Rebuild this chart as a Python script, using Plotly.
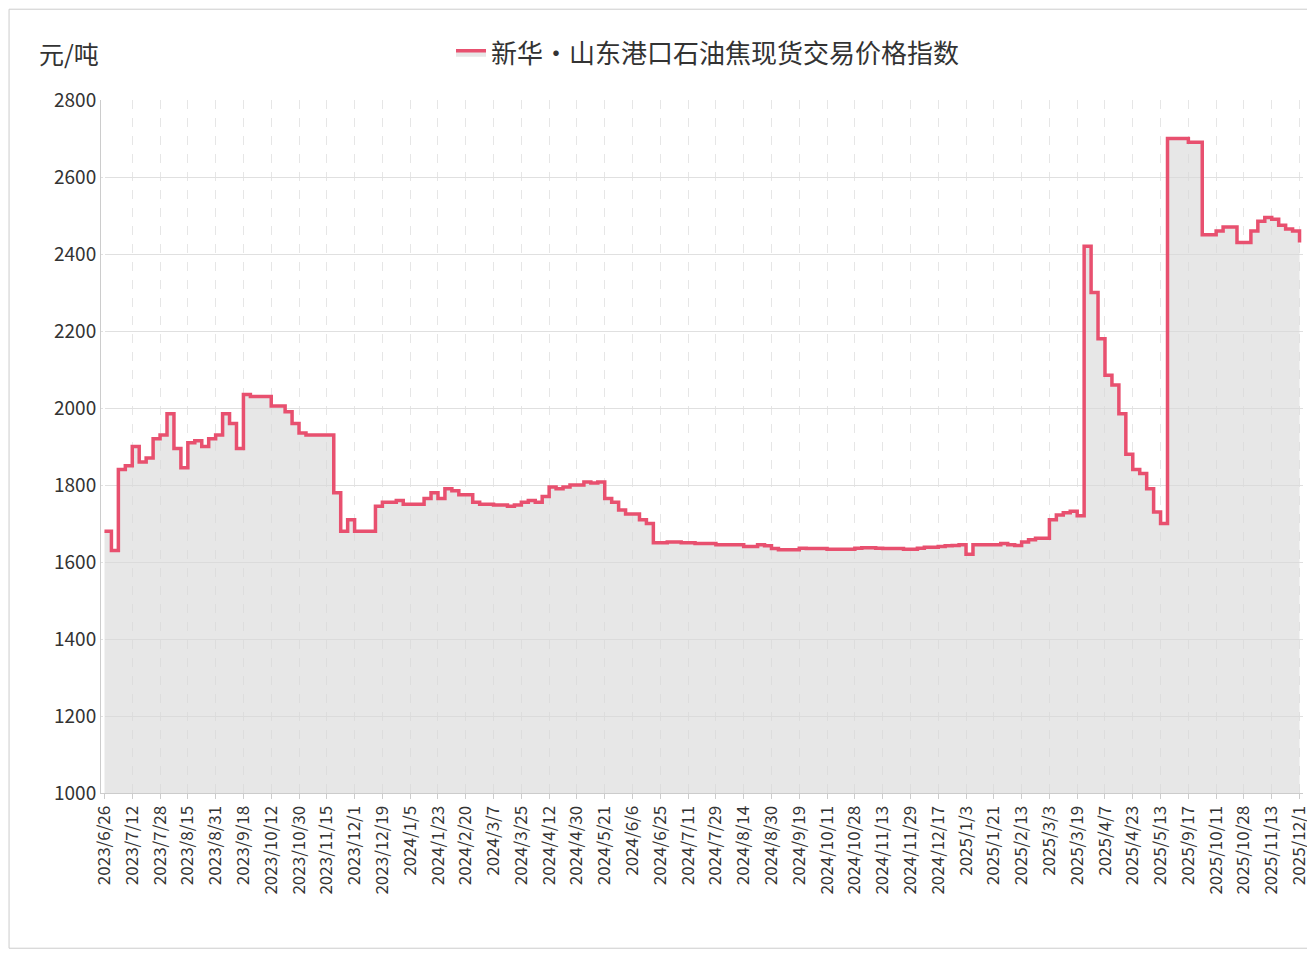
import plotly.graph_objects as go

# tick labels on the category axis (one every 4 points)
tick_labels = [
    "2023/6/26", "2023/7/12", "2023/7/28", "2023/8/15", "2023/8/31", "2023/9/18",
    "2023/10/12", "2023/10/30", "2023/11/15", "2023/12/1", "2023/12/19", "2024/1/5",
    "2024/1/23", "2024/2/20", "2024/3/7", "2024/3/25", "2024/4/12", "2024/4/30",
    "2024/5/21", "2024/6/6", "2024/6/25", "2024/7/11", "2024/7/29", "2024/8/14",
    "2024/8/30", "2024/9/19", "2024/10/11", "2024/10/28", "2024/11/13", "2024/11/29",
    "2024/12/17", "2025/1/3", "2025/1/21", "2025/2/13", "2025/3/3", "2025/3/19",
    "2025/4/7", "2025/4/23", "2025/5/13", "2025/9/17", "2025/10/11", "2025/10/28",
    "2025/11/13", "2025/12/1",
]

# index values (yuan/tonne)
prices = [
    1680, 1630, 1840, 1850,
    1900, 1860, 1870, 1920,
    1930, 1985, 1895, 1845,
    1910, 1915, 1900, 1920,
    1930, 1985, 1960, 1895,
    2035, 2030, 2030, 2030,
    2005, 2005, 1990, 1960,
    1935, 1930, 1930, 1930,
    1930, 1780, 1680, 1710,
    1680, 1680, 1680, 1745,
    1755, 1755, 1760, 1750,
    1750, 1750, 1765, 1780,
    1765, 1790, 1785, 1775,
    1775, 1755, 1750, 1750,
    1748, 1748, 1745, 1748,
    1755, 1760, 1755, 1770,
    1795, 1790, 1795, 1800,
    1800, 1808, 1805, 1808,
    1765, 1755, 1735, 1725,
    1725, 1710, 1700, 1650,
    1650, 1652, 1652, 1650,
    1650, 1648, 1648, 1648,
    1645, 1645, 1645, 1645,
    1640, 1640, 1645, 1642,
    1635, 1632, 1632, 1632,
    1636, 1635, 1635, 1635,
    1633, 1633, 1633, 1633,
    1636, 1637, 1637, 1636,
    1635, 1635, 1635, 1633,
    1633, 1636, 1638, 1638,
    1640, 1642, 1643, 1645,
    1620, 1645, 1645, 1645,
    1645, 1648, 1645, 1643,
    1652, 1658, 1662, 1662,
    1710, 1722, 1728, 1732,
    1720, 2420, 2300, 2180,
    2085, 2060, 1985, 1880,
    1840, 1830, 1790, 1730,
    1700, 2700, 2700, 2700,
    2690, 2690, 2450, 2450,
    2460, 2470, 2470, 2430,
    2430, 2460, 2485, 2495,
    2490, 2475, 2465, 2460,
    2430,
]

x = list(range(len(prices)))
tick_pos = list(range(0, len(prices), 4))

font = "Noto Sans CJK SC, Noto Sans, sans-serif"

fig = go.Figure()
fig.add_trace(go.Scatter(
    x=x, y=prices, mode="lines",
    name="新华·山东港口石油焦现货交易价格指数",
    line=dict(color="#e8506f", width=3.5, shape="hv"),
    fill="tozeroy", fillcolor="rgba(215,215,215,0.6)",
))

fig.update_layout(
    width=1315, height=953,
    paper_bgcolor="white", plot_bgcolor="white",
    margin=dict(l=93, r=20, t=92, b=168, autoexpand=False),
    font=dict(family=font, color="#333", size=17),
    showlegend=True,
    legend=dict(orientation="h", x=0.505, xanchor="center", y=1.068, yanchor="middle",
                font=dict(size=26, color="#333"), bgcolor="rgba(0,0,0,0)"),
    annotations=[dict(text="元/吨", xref="paper", yref="paper", x=-0.053, y=1.068,
                      xanchor="left", yanchor="middle", showarrow=False,
                      font=dict(size=25, color="#333"))],
    shapes=[dict(type="rect", xref="paper", yref="paper", x0=-0.0765, x1=1.015,
                 y0=-0.224, y1=1.131, line=dict(color="#ccc", width=1))],
)
fig.update_xaxes(
    range=[-0.5, len(prices) - 0.5],
    tickmode="array", tickvals=tick_pos, ticktext=tick_labels, tickangle=-90,
    showgrid=True, gridcolor="#e6e6e6", griddash="dash",
    showline=True, linecolor="#ccc", ticks="outside", tickcolor="#ccc",
    tickfont=dict(size=17),
)
fig.update_yaxes(
    range=[1000, 2800], dtick=200, gridcolor="#e0e0e0",
    showline=True, linecolor="#ccc", tickfont=dict(size=19),
)

fig.write_html("out.html")
